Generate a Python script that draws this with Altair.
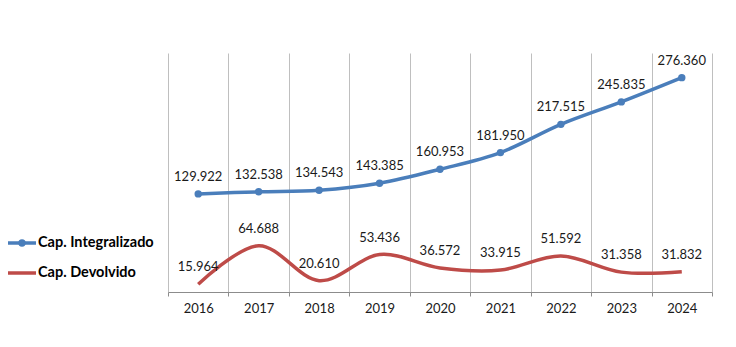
import altair as alt
import pandas as pd

years = ["2016", "2017", "2018", "2019", "2020", "2021", "2022", "2023", "2024"]
integralizado = [129922, 132538, 134543, 143385, 160953, 181950, 217515, 245835, 276360]
devolvido = [15964, 64688, 20610, 53436, 36572, 33915, 51592, 31358, 31832]
series_names = ["Cap. Integralizado", "Cap. Devolvido"]
series_colors = ["#4A7EBB", "#BE4B48"]

df = pd.concat([
    pd.DataFrame({"ano": years, "valor": integralizado, "serie": series_names[0]}),
    pd.DataFrame({"ano": years, "valor": devolvido, "serie": series_names[1]}),
])
legend_df = pd.DataFrame({"serie": series_names, "cor": series_colors})

FONT = "Lato"

x_enc = alt.X(
    "ano:N",
    sort=years,
    bandPosition=0.5,
    scale=alt.Scale(type="band", paddingInner=0, paddingOuter=0),
    axis=alt.Axis(
        title=None, labelAngle=0, tickBand="extent", grid=True,
        gridColor="#BFBFBF", gridWidth=1, domainColor="#8C8C8C", domainWidth=1,
        tickColor="#8C8C8C", tickSize=4, labelPadding=6,
        labelFont=FONT, labelFontSize=13, labelColor="#1A1A1A",
    ),
)
y_enc = alt.Y(
    "valor:Q",
    scale=alt.Scale(domain=[6300, 307440], nice=False, zero=False),
    axis=None,
)
color_enc = alt.Color(
    "serie:N",
    scale=alt.Scale(domain=series_names, range=series_colors),
    legend=None,
)

base = alt.Chart(df).encode(x=x_enc, y=y_enc, color=color_enc)

lines = base.mark_line(interpolate="cardinal", strokeWidth=3.5)
points = base.transform_filter(
    alt.datum.serie == series_names[0]
).mark_point(filled=True, size=55, opacity=1)
labels = base.transform_calculate(
    lbl="replace(format(datum.valor, ','), ',', '.')"
).mark_text(
    dy=-17, font=FONT, fontSize=13, color="#1A1A1A"
).encode(text="lbl:N", color=alt.value("#1A1A1A"))

ly = alt.Y("serie:N", sort=series_names,
           scale=alt.Scale(type="point", padding=0, domain=series_names, range=[190, 220]),
           axis=None)
lc = alt.Color("cor:N", scale=None)

leg_base = alt.Chart(legend_df)
leg_rule = leg_base.mark_rule(strokeWidth=3.5).encode(
    x=alt.value(-160), x2=alt.value(-132), y=ly, color=lc)
leg_pt = leg_base.transform_filter(
    alt.datum.serie == series_names[0]
).mark_point(filled=True, size=55, opacity=1).encode(
    x=alt.value(-146), y=ly, color=lc)
leg_txt = leg_base.mark_text(
    align="left", baseline="middle", font=FONT, fontSize=14.5,
    fontWeight="bold", color="#000000"
).encode(x=alt.value(-130), y=ly, text="serie:N")

legend_layer = alt.layer(leg_rule, leg_pt, leg_txt)

chart = alt.layer(
    lines, points, labels, legend_layer
).resolve_scale(
    y="independent", color="independent"
).properties(
    width=544, height=239,
    autosize=alt.AutoSizeParams(type="none"),
    padding={"left": 168, "top": 53, "right": 24, "bottom": 55},
    background="white",
).configure_view(stroke=None)

chart.save("out.html", embed_options={"renderer": "svg", "actions": False})
